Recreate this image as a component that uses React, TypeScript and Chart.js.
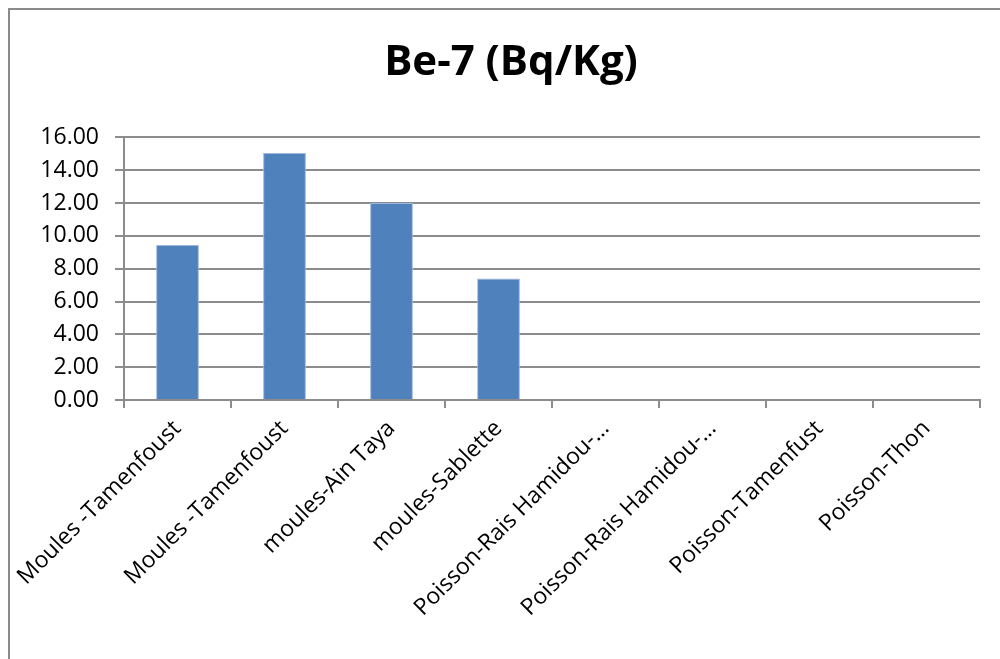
import React, { useEffect, useRef } from "react";
import { Chart, registerables } from "chart.js";

Chart.register(...registerables);

// Sample names along the category axis
const categories: string[] = [
  "Moules -Tamenfoust",
  "Moules -Tamenfoust",
  "moules-Ain Taya",
  "moules-Sablette",
  "Poisson-Rais Hamidou-…",
  "Poisson-Rais Hamidou-…",
  "Poisson-Tamenfust",
  "Poisson-Thon",
];

// Be-7 activity per sample (Bq/Kg)
const be7Values: number[] = [9.45, 15.05, 12.0, 7.4, 0, 0, 0, 0];

// Value axis range
const yMin = 0;
const yMax = 16;
const yStep = 2;

const chartTitle = "Be-7 (Bq/Kg)";

const FONT = "'Open Sans', 'Noto Sans', sans-serif";
const GRID = "#8c8c8c";

export default function App() {
  const canvasRef = useRef<HTMLCanvasElement | null>(null);

  useEffect(() => {
    const canvas = canvasRef.current;
    if (!canvas) return;
    const chart = new Chart(canvas, {
      type: "bar",
      data: {
        labels: categories,
        datasets: [
          {
            label: chartTitle,
            data: be7Values,
            backgroundColor: "#4F81BD",
            borderColor: "#9db8dc",
            borderWidth: 1,
            barPercentage: 0.4,
            categoryPercentage: 1.0,
          },
        ],
      },
      options: {
        responsive: false,
        animation: false,
        // left padding keeps the title centred over the framed area
        layout: { padding: { left: 42, right: 20, top: 0, bottom: 0 } },
        plugins: {
          legend: { display: false },
          tooltip: { enabled: false },
          title: {
            display: true,
            text: chartTitle,
            color: "#000",
            font: { family: FONT, size: 42, weight: "bold", lineHeight: 1.2 },
            padding: { top: 38, bottom: 49 },
          },
        },
        scales: {
          x: {
            afterFit: (s: any) => {
              s.height = 259;
            },
            grid: {
              offset: true,
              drawOnChartArea: false,
              drawTicks: true,
              tickLength: 8,
              color: GRID,
              lineWidth: 2,
            },
            border: { color: GRID, width: 2 },
            ticks: {
              autoSkip: false,
              minRotation: 45,
              maxRotation: 45,
              padding: 7,
              color: "#000",
              font: { family: FONT, size: 23 },
            },
          },
          y: {
            min: yMin,
            max: yMax,
            afterFit: (s: any) => {
              s.width = 82;
            },
            grid: {
              color: GRID,
              lineWidth: 2,
              drawTicks: true,
              tickLength: 9,
            },
            border: { color: GRID, width: 2 },
            ticks: {
              stepSize: yStep,
              padding: 16,
              color: "#000",
              font: { family: FONT, size: 23 },
              callback: (v: any) => Number(v).toFixed(2),
            },
          },
        },
      },
    });
    return () => chart.destroy();
  }, []);

  return (
    <div
      style={{
        position: "fixed",
        left: 0,
        top: 0,
        width: 1000,
        height: 659,
        background: "#fff",
        overflow: "hidden",
      }}
    >
      <div
        style={{
          position: "absolute",
          left: 8,
          top: 8,
          width: 1100,
          height: 800,
          border: "2px solid #8a8a8a",
        }}
      />
      <canvas
        ref={canvasRef}
        width={1000}
        height={659}
        style={{ position: "absolute", left: 0, top: 0, width: 1000, height: 659 }}
      />
    </div>
  );
}
